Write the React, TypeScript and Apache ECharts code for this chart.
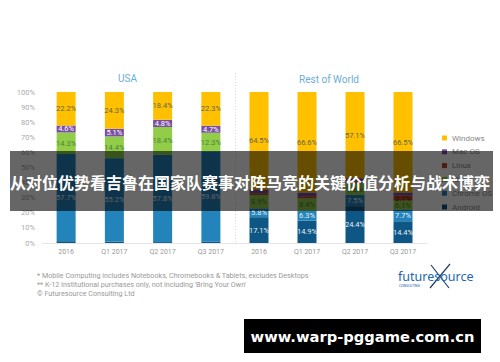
import React, { useEffect, useRef } from "react";
import * as echarts from "echarts";

const categories = ["2016", "Q1 2017", "Q2 2017", "Q3 2017"];
const seriesNames = ["Android", "Chrome OS", "iOS", "Linux", "Mac OS", "Windows"];
const legendOrder = ["Windows", "Mac OS", "Linux", "iOS", "Chrome OS", "Android"];
const yTicks = [0, 10, 20, 30, 40, 50, 60, 70, 80, 90, 100];

const usaAndroid = [1.2, 1.0, 0.6, 0.9];
const usaChrome = [57.7, 55.2, 57.8, 59.8];
const usaIOS = [14.3, 14.4, 18.4, 12.3];
const usaLinux = [0, 0, 0, 0];
const usaMac = [4.6, 5.1, 4.8, 4.7];
const usaWindows = [22.2, 24.3, 18.4, 22.3];

const rowAndroid = [17.1, 14.9, 24.4, 14.4];
const rowChrome = [5.8, 6.3, 7.5, 7.7];
const rowIOS = [8.9, 8.4, 7.6, 6.1];
const rowLinux = [1.2, 1.4, 1.1, 3.1];
const rowMac = [2.5, 2.4, 2.3, 2.2];
const rowWindows = [64.5, 66.6, 57.1, 66.5];

const panelTitles = ["USA", "Rest of World"];
const footnotes = [
  "* Mobile Computing includes Notebooks, Chromebooks & Tablets, excludes Desktops",
  "** K-12 Institutional purchases only, not including 'Bring Your Own'",
  "© Futuresource Consulting Ltd",
];
const bannerTitle = "从对位优势看吉鲁在国家队赛事对阵马竞的关键价值分析与战术博弈";
const watermark = "www.warp-pggame.com.cn";

const colors: Record<string, string> = {
  Windows: "#ffc000",
  "Mac OS": "#7a4fa3",
  Linux: "#c0482a",
  iOS: "#92cd4a",
  "Chrome OS": "#2383bb",
  Android: "#0e5784",
};
const labelColors: Record<string, string> = {
  Windows: "#66644a",
  "Mac OS": "#ffffff",
  Linux: "#6a2414",
  iOS: "#4d8238",
  "Chrome OS": "#e8f2fa",
  Android: "#e8eef4",
};

const FONT = "Roboto, 'Noto Sans', sans-serif";

export default function App() {
  const ref = useRef<HTMLDivElement>(null);
  useEffect(() => {
    if (!ref.current) return;
    const chart = echarts.init(ref.current, null, { renderer: "svg" });
    const usa = [usaAndroid, usaChrome, usaIOS, usaLinux, usaMac, usaWindows];
    const row = [rowAndroid, rowChrome, rowIOS, rowLinux, rowMac, rowWindows];
    const mk = (data: number[][], idx: number) =>
      seriesNames.map((name, i) => ({
        name,
        type: "bar",
        stack: "s" + idx,
        xAxisIndex: idx,
        yAxisIndex: idx,
        barWidth: 19,
        itemStyle: { color: colors[name] },
        data: data[i].map((v) => ({
          value: v,
          label: { show: v >= 3 },
        })),
        label: {
          show: true,
          position: "inside",
          fontSize: 7.5,
          fontFamily: FONT,
          color: labelColors[name],
          formatter: (p: any) => p.value.toFixed(1) + "%",
        },
      }));
    const xAxis = (idx: number) => ({
      type: "category",
      gridIndex: idx,
      data: categories,
      axisTick: { show: false },
      axisLine: { lineStyle: { color: "#e4e4e4" } },
      axisLabel: { color: "#999", fontSize: 7, fontFamily: FONT, margin: 5, interval: 0 },
    });
    const yAxis = (idx: number) => ({
      type: "value",
      gridIndex: idx,
      min: yTicks[0],
      max: yTicks[yTicks.length - 1],
      interval: 10,
      splitLine: { show: false },
      axisLine: { show: false },
      axisTick: { show: false },
      axisLabel: {
        show: idx === 0,
        color: "#aaa",
        fontSize: 7.5,
        fontFamily: FONT,
        margin: 7,
        formatter: "{value}%",
      },
    });
    chart.setOption({
      animation: false,
      backgroundColor: "#ffffff",
      grid: [
        { left: 42, top: 92, width: 193, height: 151 },
        { left: 235, top: 92, width: 192, height: 151 },
      ],
      xAxis: [xAxis(0), xAxis(1)],
      yAxis: [yAxis(0), yAxis(1)],
      legend: {
        orient: "vertical",
        left: 437,
        top: 128,
        data: legendOrder,
        icon: "rect",
        itemWidth: 5,
        itemHeight: 5,
        itemGap: 3.8,
        textStyle: { color: "#888", fontSize: 8, fontFamily: FONT, lineHeight: 10 },
        selectedMode: false,
      },
      series: [...mk(usa, 0), ...mk(row, 1)],
      graphic: [
        {
          type: "text",
          left: 138 - 20,
          top: 73,
          style: { text: panelTitles[0], fill: "#6aaed6", fontSize: 10, fontFamily: FONT, width: 40, align: "center" },
          x: 0,
        },
        {
          type: "text",
          x: 138,
          y: 79,
          style: { text: "", fill: "#6aaed6" },
        },
        {
          type: "text",
          x: 329,
          y: 79,
          style: { text: panelTitles[1], fill: "#6aaed6", fontSize: 10, fontFamily: FONT, align: "center", verticalAlign: "middle" },
        },
        {
          type: "line",
          shape: { x1: 235.5, y1: 73, x2: 235.5, y2: 243 },
          style: { stroke: "#d8d8d8", lineWidth: 1, lineDash: [1, 2] },
        },
        ...footnotes.map((t, i) => ({
          type: "text",
          x: 37,
          y: 275 + i * 9.2,
          style: { text: t, fill: "#999", fontSize: 7.2, fontFamily: FONT, verticalAlign: "middle" },
        })),
        {
          type: "line",
          shape: { x1: 431, y1: 265, x2: 449, y2: 288 },
          style: { stroke: "#1b3f6a", lineWidth: 1.2 },
        },
        {
          type: "line",
          shape: { x1: 450, y1: 264, x2: 430, y2: 288 },
          style: { stroke: "#1b3f6a", lineWidth: 1.2 },
        },
        {
          type: "text",
          x: 398,
          y: 276,
          style: { text: "futuresource", fill: "#2366ad", fontSize: 12.5, fontFamily: "'Noto Sans', sans-serif", verticalAlign: "middle" },
        },
        {
          type: "text",
          x: 399,
          y: 286,
          style: { text: "CONSULTING", fill: "#2366ad", fontSize: 3.5, fontFamily: FONT, verticalAlign: "middle" },
        },
        {
          type: "rect",
          z: 100,
          shape: { x: 10, y: 151, width: 483, height: 60 },
          style: { fill: "rgba(0,0,0,0.6)" },
        },
        {
          type: "text",
          z: 101,
          x: 250,
          y: 181.5,
          style: {
            text: bannerTitle,
            fill: "#ffffff",
            fontSize: 16,
            fontWeight: "bold",
            fontFamily: "'Noto Sans CJK SC', sans-serif",
            align: "center",
            verticalAlign: "middle",
          },
        },
        {
          type: "rect",
          z: 100,
          shape: { x: 244, y: 319, width: 237, height: 34 },
          style: { fill: "#000000" },
        },
        {
          type: "text",
          z: 101,
          x: 362.5,
          y: 336.5,
          style: {
            text: watermark,
            fill: "#ffffff",
            fontSize: 14.7,
            fontWeight: "bold",
            fontFamily: "'DejaVu Sans', sans-serif",
            align: "center",
            verticalAlign: "middle",
          },
        },
      ],
    });
    return () => chart.dispose();
  }, []);
  return (
    <div
      ref={ref}
      style={{ position: "fixed", left: 0, top: 0, width: 500, height: 362 }}
    />
  );
}
